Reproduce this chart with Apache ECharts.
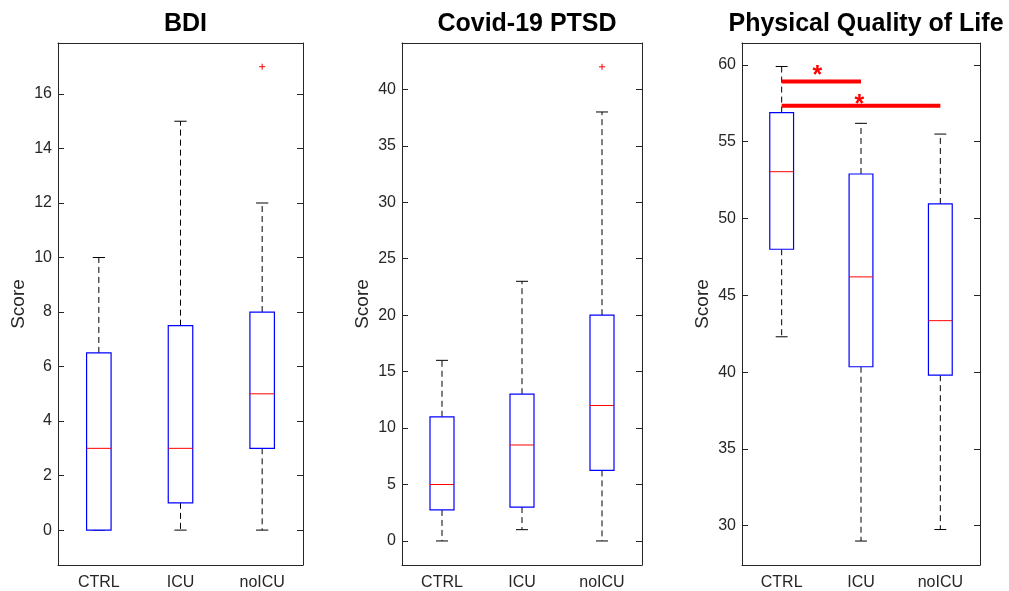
<!DOCTYPE html>
<html>
<head>
<meta charset="utf-8">
<title>Score distributions by group</title>
<script src="https://cdn.jsdelivr.net/npm/echarts@6/dist/echarts.min.js"></script>
<style>
  html, body { margin: 0; padding: 0; background: #ffffff; }
  #chart { width: 1009px; height: 591px; }
</style>
</head>
<body>
<div id="chart"></div>
<script>
// Groups shown on every x axis
const groups = ['CTRL', 'ICU', 'noICU'];

// Panel titles
const titles = ['BDI', 'Covid-19 PTSD', 'Physical Quality of Life'];

// Five-number summaries per group: [min, q1, median, q3, max]
const bdiStats   = [[0, 0, 3, 6.5, 10], [0, 1, 3, 7.5, 15], [0, 3, 5, 8, 12]];
const ptsdStats  = [[0, 2.75, 5, 11, 16], [1, 3, 8.5, 13, 23], [0, 6.25, 12, 20, 38]];
const physStats  = [[42.3, 48, 53.05, 56.9, 59.9], [29, 40.35, 46.2, 52.9, 56.2], [29.75, 39.8, 43.35, 50.95, 55.5]];

// Outliers: [group index, value]
const bdiOutliers  = [[2, 17]];
const ptsdOutliers = [[2, 42]];
const physOutliers = [];

// Y tick labels per panel
const bdiTicks  = [0, 2, 4, 6, 8, 10, 12, 14, 16];
const ptsdTicks = [0, 5, 10, 15, 20, 25, 30, 35, 40];
const physTicks = [30, 35, 40, 45, 50, 55, 60];

// Y ranges per panel
const bdiRange  = [-1.28, 17.87];
const ptsdRange = [-2.13, 44.11];
const physRange = [27.44, 61.43];

// Significance brackets (Physical QoL): [from group, to group, bar value]
const sigBars  = [[0, 1, 58.92], [0, 2, 57.35]];
// Star markers: [left group, right group, fraction between them, value]
const sigStars = [[0, 1, 0.45, 59.58], [0, 1, 0.98, 57.72]];

const FONT = "'Liberation Sans', Arial, Helvetica, sans-serif";
const AXIS = '#262626';

const panels = [
  { stats: bdiStats,  outliers: bdiOutliers,  ticks: bdiTicks,  range: bdiRange,  grid: { left: 58,  top: 43, width: 245, height: 522 } },
  { stats: ptsdStats, outliers: ptsdOutliers, ticks: ptsdTicks, range: ptsdRange, grid: { left: 402, top: 43, width: 240, height: 522 } },
  { stats: physStats, outliers: physOutliers, ticks: physTicks, range: physRange, grid: { left: 742, top: 43, width: 238, height: 522 } }
];

const grid = [], xAxis = [], yAxis = [], series = [], title = [];

panels.forEach((p, i) => {
  grid.push(Object.assign({ show: false }, p.grid));

  title.push({
    text: titles[i],
    left: p.grid.left + p.grid.width / 2,
    top: 7,
    textAlign: 'center',
    textStyle: { fontFamily: FONT, fontWeight: 'bold', fontSize: 25, color: '#000' }
  });

  // bottom category axis with labels, top mirror axis with ticks only
  xAxis.push({
    type: 'category', gridIndex: i, data: groups, position: 'bottom',
    axisLine: { onZero: false, lineStyle: { color: AXIS, width: 1 } },
    axisTick: { inside: true, length: 6, alignWithLabel: true, lineStyle: { color: AXIS } },
    axisLabel: { fontFamily: FONT, fontSize: 16, color: AXIS, margin: 10 },
    splitLine: { show: false }
  });
  xAxis.push({
    type: 'category', gridIndex: i, data: groups, position: 'top',
    axisLine: { onZero: false, lineStyle: { color: AXIS, width: 1 } },
    axisTick: { inside: true, length: 6, alignWithLabel: true, lineStyle: { color: AXIS } },
    axisLabel: { show: false },
    splitLine: { show: false }
  });

  // left value axis with labels, right mirror axis with ticks only
  yAxis.push({
    type: 'value', gridIndex: i, position: 'left',
    min: p.range[0], max: p.range[1],
    name: 'Score', nameLocation: 'middle', nameGap: 30,
    nameTextStyle: { fontFamily: FONT, fontSize: 19, color: AXIS },
    axisLine: { show: true, onZero: false, lineStyle: { color: AXIS, width: 1 } },
    axisTick: { show: true, inside: true, length: 6, customValues: p.ticks, lineStyle: { color: AXIS } },
    axisLabel: { fontFamily: FONT, fontSize: 16, color: AXIS, margin: 6, customValues: p.ticks },
    splitLine: { show: false }
  });
  yAxis.push({
    type: 'value', gridIndex: i, position: 'right',
    min: p.range[0], max: p.range[1],
    axisLine: { show: true, onZero: false, lineStyle: { color: AXIS, width: 1 } },
    axisTick: { show: true, inside: true, length: 6, customValues: p.ticks, lineStyle: { color: AXIS } },
    axisLabel: { show: false },
    splitLine: { show: false }
  });

  // box plots: blue box, red median, dashed black whiskers with caps
  series.push({
    type: 'custom',
    xAxisIndex: 2 * i, yAxisIndex: 2 * i,
    data: p.stats.map((s, k) => [k].concat(s)),
    renderItem: function (params, api) {
      const x = api.value(0);
      const bw = api.size([1, 0])[0] * 0.3;
      const capW = bw / 2;
      const pMin = api.coord([x, api.value(1)]);
      const pQ1  = api.coord([x, api.value(2)]);
      const pMed = api.coord([x, api.value(3)]);
      const pQ3  = api.coord([x, api.value(4)]);
      const pMax = api.coord([x, api.value(5)]);
      const cx = pMed[0];
      const whisk = { stroke: '#000', lineWidth: 1, lineDash: [6, 4], fill: null };
      const solid = { stroke: '#000', lineWidth: 1, fill: null };
      return {
        type: 'group',
        children: [
          { type: 'line', shape: { x1: cx, y1: pQ3[1], x2: cx, y2: pMax[1] }, style: whisk },
          { type: 'line', shape: { x1: cx, y1: pQ1[1], x2: cx, y2: pMin[1] }, style: whisk },
          { type: 'line', shape: { x1: cx - capW / 2, y1: pMax[1], x2: cx + capW / 2, y2: pMax[1] }, style: solid },
          { type: 'line', shape: { x1: cx - capW / 2, y1: pMin[1], x2: cx + capW / 2, y2: pMin[1] }, style: solid },
          { type: 'rect', shape: { x: cx - bw / 2, y: pQ3[1], width: bw, height: pQ1[1] - pQ3[1] },
            style: { stroke: '#0000ff', lineWidth: 1.2, fill: '#ffffff' } },
          { type: 'line', shape: { x1: cx - bw / 2, y1: pMed[1], x2: cx + bw / 2, y2: pMed[1] },
            style: { stroke: '#ff0000', lineWidth: 1, fill: null } }
        ]
      };
    },
    z: 3
  });

  // outliers as red plus signs
  if (p.outliers.length) {
    series.push({
      type: 'custom',
      xAxisIndex: 2 * i, yAxisIndex: 2 * i,
      data: p.outliers,
      renderItem: function (params, api) {
        const c = api.coord([api.value(0), api.value(1)]);
        const h = 3;
        const st = { stroke: '#ff0000', lineWidth: 1, fill: null };
        return {
          type: 'group',
          children: [
            { type: 'line', shape: { x1: c[0] - h, y1: c[1], x2: c[0] + h, y2: c[1] }, style: st },
            { type: 'line', shape: { x1: c[0], y1: c[1] - h, x2: c[0], y2: c[1] + h }, style: st }
          ]
        };
      },
      z: 4
    });
  }
});

// significance bars on the Physical Quality of Life panel
series.push({
  type: 'custom',
  xAxisIndex: 4, yAxisIndex: 4,
  data: sigBars,
  renderItem: function (params, api) {
    const a = api.coord([api.value(0), api.value(2)]);
    const b = api.coord([api.value(1), api.value(2)]);
    return {
      type: 'line',
      shape: { x1: a[0], y1: a[1], x2: b[0], y2: b[1] },
      style: { stroke: '#ff0000', lineWidth: 4, fill: null }
    };
  },
  z: 5
});
// asterisks; the glyph sits high in its em box, so drop the text a few pixels
const STAR_GLYPH_SHIFT = 5;
series.push({
  type: 'custom',
  xAxisIndex: 4, yAxisIndex: 4,
  data: sigStars,
  renderItem: function (params, api) {
    const v = api.value(3);
    const a = api.coord([api.value(0), v]);
    const b = api.coord([api.value(1), v]);
    const x = a[0] + api.value(2) * (b[0] - a[0]);
    return {
      type: 'text',
      x: x, y: a[1] + STAR_GLYPH_SHIFT,
      style: {
        text: '*', fill: '#ff0000',
        font: 'bold 25px ' + FONT,
        textAlign: 'center', textVerticalAlign: 'middle'
      }
    };
  },
  z: 6
});

const chart = echarts.init(document.getElementById('chart'), null, { renderer: 'canvas' });
chart.setOption({
  animation: false,
  backgroundColor: '#ffffff',
  title: title,
  grid: grid,
  xAxis: xAxis,
  yAxis: yAxis,
  series: series
});
</script>
</body>
</html>
